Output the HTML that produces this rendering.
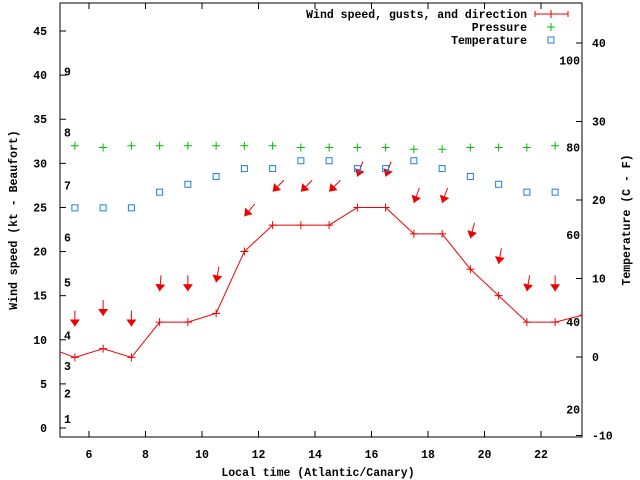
<!DOCTYPE html>
<html><head><meta charset="utf-8"><style>
body{margin:0;background:#fff}
svg{display:block;font-family:"Liberation Mono",monospace;font-weight:bold;font-size:11.5px}
</style></head><body>
<svg id="chart" width="640" height="480" viewBox="0 0 640 480" xmlns="http://www.w3.org/2000/svg">
<defs><clipPath id="clip"><rect x="60" y="3" width="522" height="434"/></clipPath></defs>
<rect x="60" y="3" width="522" height="434" fill="#fff" stroke="#000" stroke-width="1"/>
<g id="axes"></g>
<g id="marks" clip-path="url(#clip)"></g>
<text x="318" y="476" text-anchor="middle">Local time (Atlantic/Canary)</text>
<text transform="translate(17,220) rotate(-90)" text-anchor="middle">Wind speed (kt - Beaufort)</text>
<text transform="translate(630,220) rotate(-90)" text-anchor="middle">Temperature (C - F)</text>
<g>
<text x="527" y="18" text-anchor="end">Wind speed, gusts, and direction</text>
<path d="M535,14H568M535,11V17M568,11V17M551,10V18" stroke="#e00" fill="none"/>
<text x="527" y="31" text-anchor="end">Pressure</text>
<path d="M547,27H555M551,23V31" stroke="#0b0" fill="none"/>
<text x="527" y="44" text-anchor="end">Temperature</text>
<rect x="548" y="37" width="6" height="6" stroke="#1a7fe0" fill="none"/>
</g>
</svg>
<script>
const hours = [4.5,5.5,6.5,7.5,8.5,9.5,10.5,11.5,12.5,13.5,14.5,15.5,16.5,17.5,18.5,19.5,20.5,21.5,22.5,23.5];
const windSpeed = [9.2,8,9,8,12,12,13,20,23,23,23,25,25,22,22,18,15,12,12,12.8];
const gusts = [null,11.5,12.7,11.5,15.5,15.5,16.5,24,26.8,26.8,26.8,28.5,28.5,25.5,25.5,21.5,18.6,15.5,15.5,null];
const windDir = [null,0,0,0,5,0,10,40,45,45,45,20,20,20,20,15,10,10,0,null];
const pressure = [null,32,31.8,32,32,32,32,32,32,31.8,31.8,31.8,31.8,31.6,31.6,31.8,31.8,31.8,32,null];
const tempC = [null,19,19,19,21,22,23,24,24,25,25,24,24,25,24,23,22,21,21,null];
const xTicks = [6,8,10,12,14,16,18,20,22];
const yTicks = [0,5,10,15,20,25,30,35,40,45];
const y2Ticks = [-10,0,10,20,30,40];
const beaufortLabels = ["1","2","3","4","5","6","7","8","9"];
const beaufortKt = [1,3.9,7,10.5,16.5,21.6,27.5,33.5,40.4];
const fahrLabels = ["100","80","60","40","20"];
const fahrValues = [100,80,60,40,20];

const NS="http://www.w3.org/2000/svg";
const X=v=>60.75+(v-5)*28.25;
const Y=v=>428-v*8.822;
const Y2=v=>357-v*7.85;
const YF=f=>Y2((f-32)*5/9);
const axes=document.getElementById('axes'), marks=document.getElementById('marks');
function mk(tag,attrs,parent,txt){const e=document.createElementNS(NS,tag);for(const k in attrs)e.setAttribute(k,attrs[k]);if(txt!==undefined)e.textContent=txt;parent.appendChild(e);return e;}

xTicks.forEach(t=>{
  const g=mk('g',{},axes);
  
  
  mk('path',{d:`M${X(t)},437v-6M${X(t)},3v6`,stroke:'#000'},g);
  mk('text',{x:X(t),y:458,'text-anchor':'middle'},g,String(t));
});
yTicks.forEach(t=>{
  const g=mk('g',{},axes);
  
  
  mk('path',{d:`M60,${Y(t)}h6`,stroke:'#000'},g);
  mk('text',{x:47,y:Y(t)+4,'text-anchor':'end'},g,String(t));
});
y2Ticks.forEach(t=>{
  const g=mk('g',{},axes);
  
  
  mk('path',{d:`M582,${Y2(t)}h-6`,stroke:'#000'},g);
  mk('text',{x:592,y:Y2(t)+4},g,String(t));
});
beaufortLabels.forEach((l,i)=>{
  const e=mk('text',{x:64,y:Y(beaufortKt[i])+4},axes,l);
  
  
});
fahrLabels.forEach((l,i)=>{
  const e=mk('text',{x:580,y:YF(fahrValues[i])+4,'text-anchor':'end'},axes,l);
  
  
});

// wind line
const pts=hours.map((h,i)=>X(h)+','+Y(windSpeed[i])).join(' ');
const line=mk('polyline',{points:pts,fill:'none',stroke:'#e00','stroke-width':1},marks);


hours.forEach((h,i)=>{
  const x=X(h),y=Y(windSpeed[i]);
  const p=mk('path',{d:`M${x-4},${y}h8M${x},${y-4}v8`,stroke:'#e00'},marks);
  
  
});
// gust arrows
hours.forEach((h,i)=>{
  if(gusts[i]==null)return;
  const x=X(h),y=Y(gusts[i]);const a=windDir[i]*Math.PI/180;
  const dx=Math.sin(a),dy=-Math.cos(a); // towards tail
  const L=16;
  const g=mk('g',{},marks);
  
  
  mk('line',{x1:x,y1:y,x2:x+dx*L,y2:y+dy*L,stroke:'#e00'},g);
  const bx=x+dx*7,by=y+dy*7,px=-dy,py=dx;
  mk('polygon',{points:`${x},${y} ${bx+px*5},${by+py*5} ${bx-px*5},${by-py*5}`,fill:'#e00'},g);
});
// pressure
hours.forEach((h,i)=>{
  if(pressure[i]==null)return;
  const x=X(h),y=Y(pressure[i]);
  const p=mk('path',{d:`M${x-4},${y}h8M${x},${y-4}v8`,stroke:'#0b0'},marks);
  
  
});
// temperature
hours.forEach((h,i)=>{
  if(tempC[i]==null)return;
  const x=X(h),y=Y2(tempC[i]);
  const r=mk('rect',{x:x-3,y:y-3,width:6,height:6,fill:'none',stroke:'#1a7fe0'},marks);
  
  
});
</script>
</body></html>
